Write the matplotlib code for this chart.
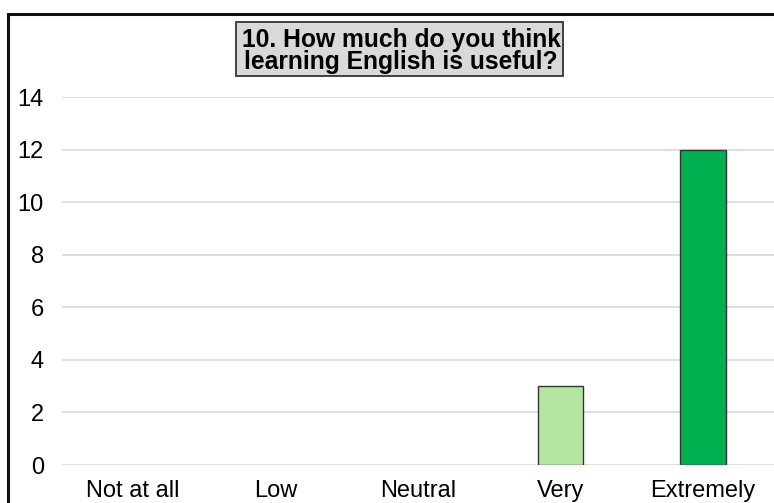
import matplotlib.pyplot as plt
from matplotlib.patches import Rectangle

categories = ["Not at all", "Low", "Neutral", "Very", "Extremely"]
counts = [0, 0, 0, 3, 12]
bar_colors = ["#b4e5a2", "#b4e5a2", "#b4e5a2", "#b4e5a2", "#00b050"]
y_ticks = [0, 2, 4, 6, 8, 10, 12, 14]
title = "10. How much do you think\nlearning English is useful?"

plt.rcParams['font.family'] = ['Liberation Sans', 'DejaVu Sans']

W, H = 774, 503
fig = plt.figure(figsize=(W / 100, H / 100), dpi=100)

# plot area in pixel terms
left, right, y0, y14 = 62, 774, 465, 97
ax = fig.add_axes([left / W, (H - y0) / H, (right - left) / W, (y0 - y14) / H])

x = range(len(categories))
edges = [1.0 if c > 0 else 0 for c in counts]
ax.bar(x, counts, width=0.32, color=bar_colors, edgecolor="#333333", linewidth=edges, zorder=3)

ax.set_xlim(-0.5, 4.5)
ax.set_ylim(0, 14)
ax.set_yticks(y_ticks)
ax.set_xticks(list(x))
ax.set_xticklabels(categories)
ax.tick_params(axis="both", length=0, labelsize=17)
ax.tick_params(axis="y", pad=13)
ax.tick_params(axis="x", pad=11)
ax.yaxis.grid(True, color="#d9d9d9", linewidth=1.2, zorder=0)
for s in ax.spines.values():
    s.set_visible(False)

# outer frame of the chart (runs off right and bottom)
fig.patches.append(Rectangle((8 / W, -0.1), 1.2, (H - 14) / H + 0.1,
                             transform=fig.transFigure, fill=False,
                             edgecolor="#111111", linewidth=2.2, zorder=10))

# title box
bx0, bx1, by0, by1 = 236, 563, 22, 76
fig.patches.append(Rectangle((bx0 / W, 1 - by1 / H), (bx1 - bx0) / W, (by1 - by0) / H,
                             transform=fig.transFigure, facecolor="#d9d9d9",
                             edgecolor="#333333", linewidth=1.3, zorder=5))
fig.text(401 / W, 1 - 28 / H, title, ha="center", va="top", multialignment="center",
         fontsize=17.7, fontweight="bold", linespacing=0.88, zorder=6)

fig.savefig("out.png", dpi=100)
